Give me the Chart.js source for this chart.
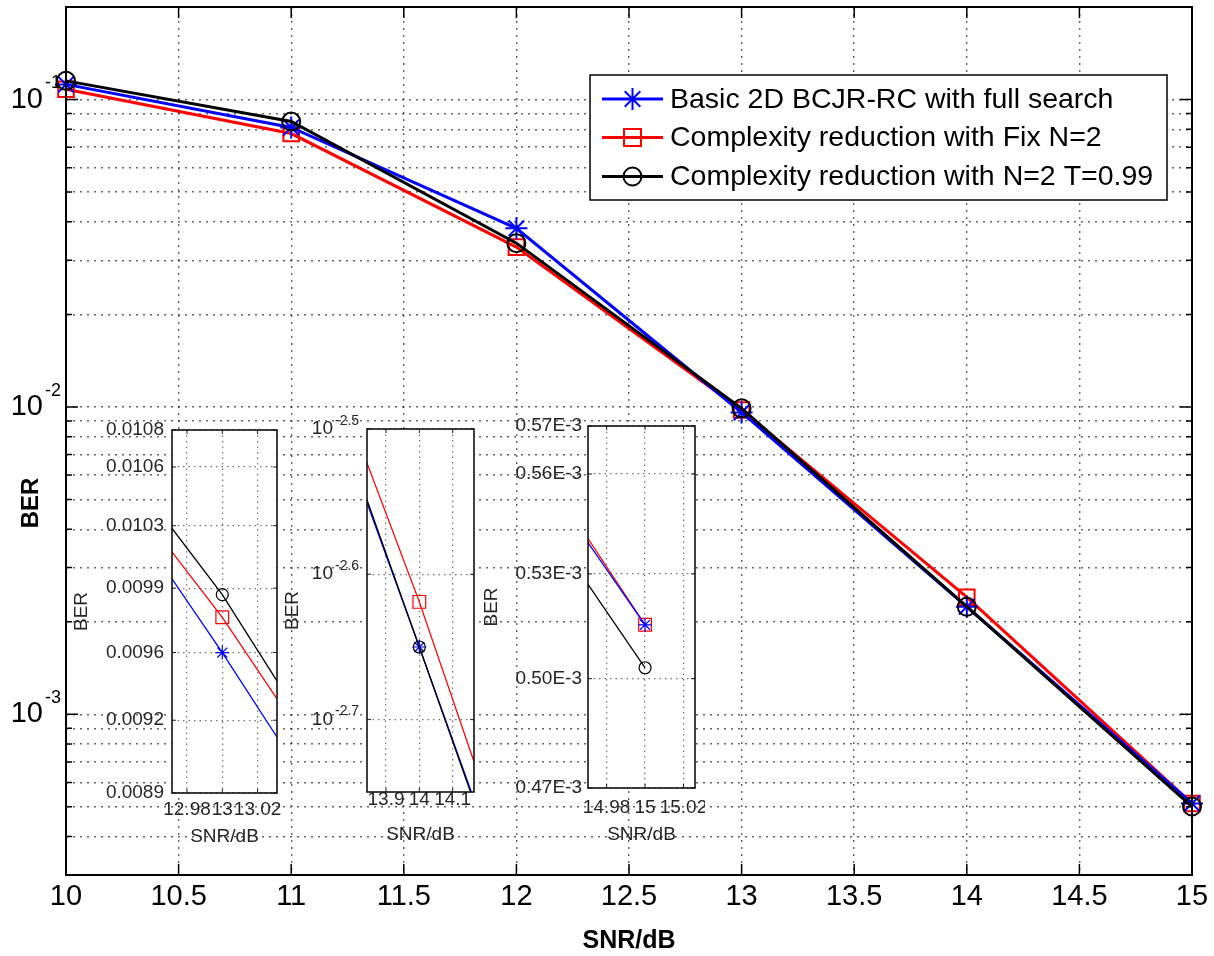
<!DOCTYPE html>
<html>
<head>
<meta charset="utf-8">
<title>BER vs SNR</title>
<script src="https://cdn.jsdelivr.net/npm/chart.js@4.4.1/dist/chart.umd.min.js"></script>
<style>
  html, body { margin: 0; padding: 0; background: #fff; }
  #wrap { position: relative; width: 1214px; height: 956px; overflow: hidden; }
  #wrap canvas { position: absolute; }
</style>
</head>
<body>
<div id="wrap">
  <canvas id="main-chart" width="1214" height="956" style="left:0;top:0;width:1214px;height:956px"></canvas>
  <canvas id="inset-13"></canvas>
  <canvas id="inset-14"></canvas>
  <canvas id="inset-15"></canvas>
</div>
<script>
  'use strict';

  const FONT = "'Liberation Sans', Arial, Helvetica, sans-serif";

  // data
  const snr = [10, 11, 12, 13, 14, 15];
  const berFullSearch = [0.112, 0.0811, 0.0381, 0.009592, 0.002238, 0.0005127];
  const berFixN2 = [0.108, 0.0775, 0.0331, 0.009774, 0.002404, 0.0005127];
  const berN2T099 = [0.115, 0.0848, 0.0341, 0.009893, 0.002238, 0.0005011];

  const seriesNames = [
    'Basic 2D BCJR-RC with full search',
    'Complexity reduction with Fix N=2',
    'Complexity reduction with N=2 T=0.99'
  ];
  const seriesColors = ['#0000ff', '#ff0000', '#000000'];
  const seriesMarkers = ['star', 'rect', 'circle'];
  const seriesOrder = [1, 2, 0];

  // main axes
  const mainXTicks = [10, 10.5, 11, 11.5, 12, 12.5, 13, 13.5, 14, 14.5, 15];
  const mainYMin = 3e-4;
  const mainYMax = 0.2;
  const mainYDecades = [-1, -2, -3];

  // zoomed insets
  const inset13XTicks = [12.98, 13, 13.02];
  const inset13XLabels = ['12.98', '13', '13.02'];
  const inset13YTicks = [0.0089, 0.009252, 0.009592, 0.009927, 0.010263, 0.010589, 0.0108];
  const inset13YLabels = ['0.0089', '0.0092', '0.0096', '0.0099', '0.0103', '0.0106', '0.0108'];

  const inset14XTicks = [13.9, 14, 14.1];
  const inset14XLabels = ['13.9', '14', '14.1'];
  const inset14YExps = [-2.7, -2.6, -2.5];

  const inset15XTicks = [14.98, 15, 15.02];
  const inset15XLabels = ['14.98', '15', '15.02'];
  const inset15YTicks = [0.00047, 0.0004982, 0.0005268, 0.0005556, 0.00057];
  const inset15YLabels = ['0.47E-3', '0.50E-3', '0.53E-3', '0.56E-3', '0.57E-3'];

  function buildDatasets(radii, lineWidth, markerWidth, noClip) {
    const series = [berFullSearch, berFixN2, berN2T099];
    return series.map(function (vals, i) {
      const ds = {
        label: seriesNames[i],
        data: snr.map(function (x, j) { return { x: x, y: vals[j] }; }),
        borderColor: seriesColors[i],
        backgroundColor: 'rgba(0,0,0,0)',
        pointBorderColor: seriesColors[i],
        pointBackgroundColor: 'rgba(0,0,0,0)',
        pointStyle: seriesMarkers[i],
        pointRadius: radii[i],
        pointBorderWidth: markerWidth,
        borderWidth: lineWidth,
        tension: 0,
        order: seriesOrder[i]
      };
      if (noClip) ds.clip = false;
      return ds;
    });
  }

  function drawMarker(ctx, style, x, y, r, color, lw) {
    ctx.save();
    ctx.strokeStyle = color;
    ctx.lineWidth = lw;
    ctx.beginPath();
    if (style === 'star') {
      for (let k = 0; k < 4; k++) {
        const a = k * Math.PI / 4;
        ctx.moveTo(x - r * Math.cos(a), y - r * Math.sin(a));
        ctx.lineTo(x + r * Math.cos(a), y + r * Math.sin(a));
      }
    } else if (style === 'rect') {
      const h = r * Math.SQRT1_2;
      ctx.rect(x - h, y - h, 2 * h, 2 * h);
    } else {
      ctx.arc(x, y, r, 0, Math.PI * 2);
    }
    ctx.stroke();
    ctx.restore();
  }

  function drawPower(ctx, xRight, yMid, exp, size, supSize, rise, color) {
    ctx.fillStyle = color;
    ctx.textBaseline = 'middle';
    ctx.font = size + 'px ' + FONT;
    ctx.textAlign = 'right';
    ctx.fillText('10', xRight, yMid);
    ctx.font = supSize + 'px ' + FONT;
    ctx.textAlign = 'left';
    ctx.fillText(exp, xRight + 2, yMid - rise);
  }

  function isDecade(v) {
    const l = Math.log10(v);
    return Math.abs(l - Math.round(l)) < 1e-6;
  }

  // ---------- main chart ----------
  const mainYGrid = [];
  for (let e = -4; e <= -1; e++) {
    for (let k = 1; k <= 9; k++) {
      const v = k * Math.pow(10, e);
      if (v >= mainYMin * 0.999 && v <= mainYMax * 1.001) mainYGrid.push(v);
    }
  }

  const mainDecor = {
    id: 'mainDecor',
    beforeDraw: function (chart) {
      const ctx = chart.ctx;
      ctx.save();
      ctx.fillStyle = '#fff';
      ctx.fillRect(0, 0, chart.width, chart.height);
      ctx.restore();
    },
    afterDraw: function (chart) {
      const ctx = chart.ctx;
      const a = chart.chartArea;
      const x = chart.scales.x;
      const y = chart.scales.y;
      ctx.save();

      // inward tick marks
      ctx.strokeStyle = '#000';
      ctx.lineWidth = 1.5;
      ctx.beginPath();
      x.ticks.forEach(function (t) {
        const px = x.getPixelForValue(t.value);
        ctx.moveTo(px, a.bottom); ctx.lineTo(px, a.bottom - 11);
        ctx.moveTo(px, a.top); ctx.lineTo(px, a.top + 11);
      });
      y.ticks.forEach(function (t) {
        const py = y.getPixelForValue(t.value);
        const len = isDecade(t.value) ? 12 : 6;
        ctx.moveTo(a.left, py); ctx.lineTo(a.left + len, py);
        ctx.moveTo(a.right, py); ctx.lineTo(a.right - len, py);
      });
      ctx.stroke();

      // axes box
      ctx.lineWidth = 2;
      ctx.strokeRect(a.left, a.top, a.right - a.left, a.bottom - a.top);

      // y tick labels 10^k
      mainYDecades.forEach(function (e) {
        drawPower(ctx, a.left - 23, y.getPixelForValue(Math.pow(10, e)), String(e), 29, 18, 16, '#000');
      });

      // y title
      ctx.save();
      ctx.translate(31, 503);
      ctx.rotate(-Math.PI / 2);
      ctx.font = 'bold 24px ' + FONT;
      ctx.textAlign = 'center';
      ctx.textBaseline = 'middle';
      ctx.fillStyle = '#000';
      ctx.fillText('BER', 0, 0);
      ctx.restore();

      // legend
      const lg = { left: 590, top: 75, right: 1167, bottom: 200 };
      const rows = [99, 137.5, 176.5];
      ctx.fillStyle = '#fff';
      ctx.fillRect(lg.left, lg.top, lg.right - lg.left, lg.bottom - lg.top);
      ctx.strokeStyle = '#000';
      ctx.lineWidth = 1.5;
      ctx.strokeRect(lg.left, lg.top, lg.right - lg.left, lg.bottom - lg.top);
      chart.data.datasets.forEach(function (ds, i) {
        const ry = rows[i];
        ctx.strokeStyle = ds.borderColor;
        ctx.lineWidth = 3;
        ctx.beginPath();
        ctx.moveTo(602, ry);
        ctx.lineTo(663, ry);
        ctx.stroke();
        drawMarker(ctx, ds.pointStyle, 632.5, ry, [11, 12, 9][i], ds.borderColor, 2);
        ctx.fillStyle = '#000';
        ctx.font = '28.5px ' + FONT;
        ctx.textAlign = 'left';
        ctx.textBaseline = 'middle';
        ctx.fillText(ds.label, 670, ry + 1);
      });

      ctx.restore();
    }
  };

  new Chart(document.getElementById('main-chart'), {
    type: 'line',
    data: { datasets: buildDatasets([11, 11, 9], 3, 2, true) },
    options: {
      responsive: false,
      animation: false,
      events: [],
      layout: { autoPadding: false, padding: { top: 7, right: 22, left: 0, bottom: 0 } },
      plugins: { legend: { display: false }, tooltip: { enabled: false } },
      scales: {
        x: {
          type: 'linear',
          min: 10,
          max: 15,
          afterBuildTicks: function (s) { s.ticks = mainXTicks.map(function (v) { return { value: v }; }); },
          afterFit: function (s) { s.height = 81; s.paddingLeft = 0; s.paddingRight = 0; },
          ticks: {
            autoSkip: false,
            maxRotation: 0,
            padding: 5,
            color: '#000',
            font: { family: FONT, size: 29 },
            callback: function (v) { return String(v); }
          },
          grid: { color: 'rgba(0,0,0,0.6)', lineWidth: 1.4, drawTicks: false },
          border: { display: false, dash: [2, 5] },
          title: {
            display: true,
            text: 'SNR/dB',
            color: '#000',
            font: { family: FONT, size: 25, weight: 'bold' },
            padding: { top: 0, bottom: 0 }
          }
        },
        y: {
          type: 'logarithmic',
          min: mainYMin,
          max: mainYMax,
          afterBuildTicks: function (s) { s.ticks = mainYGrid.map(function (v) { return { value: v }; }); },
          afterFit: function (s) { s.width = 66; s.paddingTop = 0; s.paddingBottom = 0; },
          ticks: { autoSkip: false, callback: function () { return ''; } },
          grid: { color: 'rgba(0,0,0,0.6)', lineWidth: 1.4, drawTicks: false },
          border: { display: false, dash: [2, 5] }
        }
      }
    },
    plugins: [mainDecor]
  });

  // ---------- insets ----------
  function makeInset(id, cfg) {
    const el = document.getElementById(id);
    const c = cfg.canvas;
    const b = cfg.box;
    el.width = c.w;
    el.height = c.h;
    el.style.left = c.left + 'px';
    el.style.top = c.top + 'px';
    el.style.width = c.w + 'px';
    el.style.height = c.h + 'px';

    const textColor = '#262626';
    const gridStyle = { color: 'rgba(0,0,0,0.55)', lineWidth: 1.2, drawTicks: false };
    const borderStyle = { display: false, dash: [1.5, 4] };

    const decor = {
      id: 'insetDecor',
      beforeDraw: function (chart) {
        const a = chart.chartArea;
        chart.ctx.save();
        chart.ctx.fillStyle = '#fff';
        chart.ctx.fillRect(a.left, a.top, a.right - a.left, a.bottom - a.top);
        chart.ctx.restore();
      },
      afterDraw: function (chart) {
        const ctx = chart.ctx;
        const a = chart.chartArea;
        const x = chart.scales.x;
        const y = chart.scales.y;
        ctx.save();
        ctx.strokeStyle = '#222';
        ctx.lineWidth = 1;
        ctx.beginPath();
        x.ticks.forEach(function (t) {
          const px = x.getPixelForValue(t.value);
          ctx.moveTo(px, a.bottom); ctx.lineTo(px, a.bottom - 4);
          ctx.moveTo(px, a.top); ctx.lineTo(px, a.top + 4);
        });
        y.ticks.forEach(function (t) {
          const py = y.getPixelForValue(t.value);
          ctx.moveTo(a.left, py); ctx.lineTo(a.left + 4, py);
          ctx.moveTo(a.right, py); ctx.lineTo(a.right - 4, py);
        });
        ctx.stroke();
        ctx.lineWidth = 1.6;
        ctx.strokeStyle = '#111';
        ctx.strokeRect(a.left, a.top, a.right - a.left, a.bottom - a.top);
        if (cfg.powerLabels) {
          cfg.powerLabels.forEach(function (e) {
            drawPower(ctx, a.left - 34, y.getPixelForValue(Math.pow(10, e)), String(e), 19, 14, 8, textColor);
          });
        }
        ctx.restore();
      }
    };

    new Chart(el, {
      type: 'line',
      data: { datasets: buildDatasets(cfg.radii, 1.3, 1.2, false) },
      options: {
        responsive: false,
        animation: false,
        events: [],
        layout: { autoPadding: false, padding: { top: b.top - c.top, right: c.left + c.w - b.right, left: 0, bottom: 0 } },
        plugins: { legend: { display: false }, tooltip: { enabled: false } },
        scales: {
          x: {
            type: 'linear',
            min: cfg.xMin,
            max: cfg.xMax,
            afterBuildTicks: function (s) { s.ticks = cfg.xTicks.map(function (v) { return { value: v }; }); },
            afterFit: function (s) { s.height = c.top + c.h - b.bottom; s.paddingLeft = 0; s.paddingRight = 0; },
            ticks: {
              autoSkip: false,
              maxRotation: 0,
              padding: cfg.xPad,
              color: textColor,
              font: { family: FONT, size: 19 },
              callback: function (v, i) { return cfg.xLabels[i]; }
            },
            grid: gridStyle,
            border: borderStyle,
            title: {
              display: true,
              text: 'SNR/dB',
              color: textColor,
              font: { family: FONT, size: 19 },
              padding: { top: 0, bottom: cfg.xTitlePad }
            }
          },
          y: {
            type: 'logarithmic',
            min: cfg.yMin,
            max: cfg.yMax,
            afterBuildTicks: function (s) { s.ticks = cfg.yTicks.map(function (v) { return { value: v }; }); },
            afterFit: function (s) { s.width = b.left - c.left; s.paddingTop = 0; s.paddingBottom = 0; },
            ticks: {
              autoSkip: false,
              padding: cfg.yPad,
              color: textColor,
              font: { family: FONT, size: 19 },
              callback: function (v, i) { return cfg.yLabels ? cfg.yLabels[i] : ''; }
            },
            grid: gridStyle,
            border: borderStyle,
            title: {
              display: true,
              text: 'BER',
              color: textColor,
              font: { family: FONT, size: 19 },
              padding: { top: cfg.yTitlePad, bottom: 0 }
            }
          }
        }
      },
      plugins: [decor]
    });
  }

  makeInset('inset-13', {
    canvas: { left: 60, top: 405, w: 230, h: 445 },
    box: { left: 172, top: 430, right: 277, bottom: 793 },
    xMin: 12.9715, xMax: 13.031,
    xTicks: inset13XTicks, xLabels: inset13XLabels,
    yMin: 0.0089, yMax: 0.0108,
    yTicks: inset13YTicks, yLabels: inset13YLabels,
    radii: [7, 9, 6],
    xPad: 5.5, xTitlePad: 1.6, yPad: 8, yTitlePad: 10.6
  });

  makeInset('inset-14', {
    canvas: { left: 275, top: 405, w: 210, h: 445 },
    box: { left: 367, top: 429, right: 474, bottom: 792 },
    xMin: 13.843, xMax: 14.164,
    xTicks: inset14XTicks, xLabels: inset14XLabels,
    yMin: Math.pow(10, -2.75), yMax: Math.pow(10, -2.5),
    yTicks: inset14YExps.map(function (e) { return Math.pow(10, e); }), yLabels: null,
    powerLabels: inset14YExps,
    radii: [7, 9, 6],
    xPad: -3.4, xTitlePad: 3.6, yPad: 8, yTitlePad: 6.6
  });

  makeInset('inset-15', {
    canvas: { left: 475, top: 405, w: 230, h: 445 },
    box: { left: 588, top: 426, right: 695, bottom: 788 },
    xMin: 14.9703, xMax: 15.026,
    xTicks: inset15XTicks, xLabels: inset15XLabels,
    yMin: 0.00047, yMax: 0.00057,
    yTicks: inset15YTicks, yLabels: inset15YLabels,
    radii: [7, 9, 6],
    xPad: 8, xTitlePad: 3.6, yPad: 6, yTitlePad: 5.6
  });
</script>
</body>
</html>
